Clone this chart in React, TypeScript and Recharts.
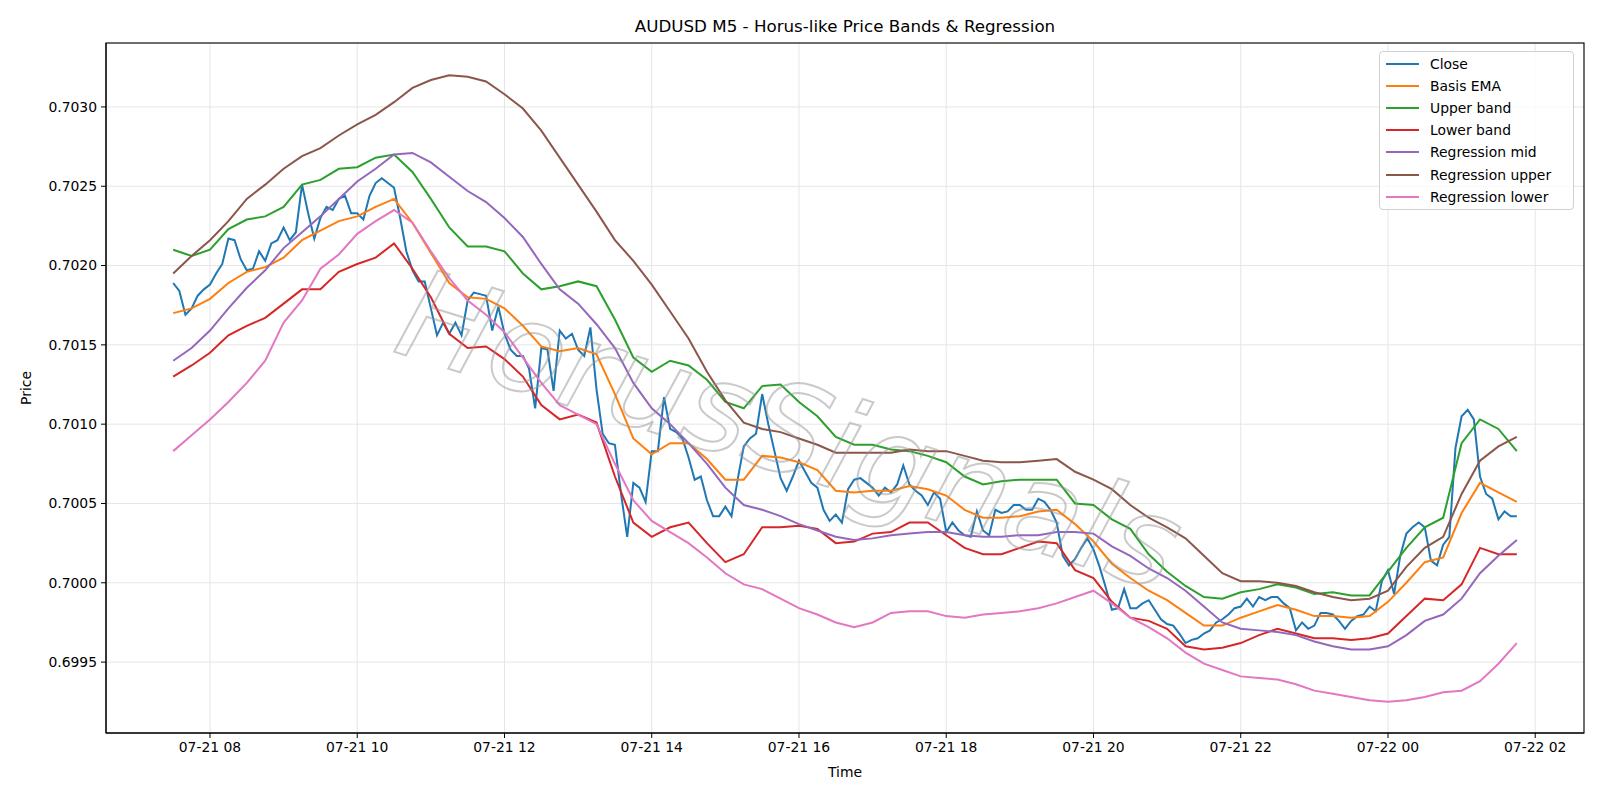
import React from "react";
import { LineChart, Line, XAxis, YAxis, CartesianGrid, Legend } from "recharts";

// M5 bars from 07-21 07:30; index 0 = 07:30, one step = 5 minutes
const closePrices = [
  0.70189, 0.70184, 0.70169, 0.70173, 0.70181, 0.70185, 0.70188, 0.70195, 0.70201, 0.70217,
  0.70216, 0.70204, 0.70197, 0.70198, 0.70209, 0.70203, 0.70214, 0.70216, 0.70224, 0.70216,
  0.70221, 0.70251, 0.70233, 0.70217, 0.7023, 0.70237, 0.70235, 0.70242, 0.70244, 0.70233,
  0.70233, 0.70229, 0.70244, 0.70252, 0.70255, 0.70252, 0.70249, 0.7023, 0.70209, 0.70197,
  0.7019, 0.7019, 0.70173, 0.70156, 0.70164, 0.70157, 0.70164, 0.70156, 0.70178, 0.70183,
  0.70182, 0.70181, 0.70159, 0.70174, 0.70157, 0.70147, 0.70143, 0.70143, 0.70135, 0.7011,
  0.70148, 0.70147, 0.70121, 0.70159, 0.70154, 0.70157, 0.70147, 0.70143, 0.70161, 0.70122,
  0.70094, 0.70088, 0.70087, 0.70056, 0.70029, 0.70063, 0.7006, 0.70051, 0.70083, 0.70083,
  0.70117, 0.70097, 0.70095, 0.70091, 0.70079, 0.70065, 0.70067, 0.70052, 0.70042, 0.70042,
  0.70048, 0.70042, 0.70065, 0.70086, 0.70091, 0.70094, 0.70119, 0.701, 0.70083, 0.70066,
  0.70058, 0.70067, 0.70077, 0.7007, 0.70063, 0.7006, 0.70046, 0.70039, 0.70043, 0.70038,
  0.70059, 0.70065, 0.70066, 0.70063, 0.7006, 0.70055, 0.7006, 0.70057, 0.70062, 0.70074,
  0.70062, 0.70058, 0.70055, 0.70049, 0.70057, 0.70053, 0.70032, 0.70038, 0.70033, 0.7003,
  0.70029, 0.70045, 0.70033, 0.7003, 0.70046, 0.70044, 0.70045, 0.70049, 0.70049, 0.70046,
  0.70046, 0.70053, 0.70051, 0.70046, 0.70038, 0.70017, 0.70011, 0.70015, 0.70022, 0.70028,
  0.70021, 0.7001, 0.69997, 0.69983, 0.69984, 0.69996, 0.69984, 0.69984, 0.69987, 0.69989,
  0.69983, 0.69977, 0.69974, 0.69973, 0.69968, 0.69962, 0.69964, 0.69965, 0.69968, 0.6997,
  0.69975, 0.69977, 0.6998, 0.69984, 0.69985, 0.6999, 0.69985, 0.69991, 0.69989, 0.69991,
  0.69991, 0.69987, 0.69984, 0.6997, 0.69975, 0.69971, 0.69973, 0.69981, 0.69981, 0.6998,
  0.69976, 0.69971, 0.69976, 0.69979, 0.6998, 0.69985, 0.69982, 0.70001, 0.70008, 0.69993,
  0.70017, 0.70031, 0.70035, 0.70038, 0.70035, 0.70014, 0.70011, 0.70024, 0.70029, 0.70085,
  0.70105, 0.70109, 0.70103, 0.70067, 0.70056, 0.70053, 0.7004, 0.70045, 0.70042, 0.70042,
];

// the smoother series, read every third bar (15 minutes)
const basisEma = [
  0.7017, 0.70173, 0.70179, 0.70189, 0.70196, 0.70199, 0.70205, 0.70216, 0.70222, 0.70228, 0.70231,
  0.70237, 0.70242, 0.70227, 0.70208, 0.70189, 0.7018, 0.70179, 0.70173, 0.70162, 0.70149, 0.70146, 0.70148, 0.70144,
  0.70119, 0.70091, 0.70081, 0.70088, 0.70088, 0.70078, 0.70065, 0.70065, 0.7008, 0.70079, 0.70076, 0.70071, 0.70058, 0.70057,
  0.70058, 0.70058, 0.70061, 0.70059, 0.70055, 0.70046, 0.70041, 0.70041, 0.70042, 0.70045, 0.70046, 0.70037, 0.70026, 0.70012,
  0.70003, 0.69995, 0.69989, 0.69981, 0.69973, 0.69973, 0.69978, 0.69982, 0.69986, 0.69983, 0.69979, 0.69979, 0.69978,
  0.69979, 0.69988, 0.7, 0.70013, 0.70016, 0.70044, 0.70063, 0.70057, 0.70051,
];
const upperBand = [
  0.7021, 0.70206, 0.7021, 0.70223, 0.70229, 0.70231, 0.70237, 0.70251, 0.70254, 0.70261, 0.70262,
  0.70268, 0.7027, 0.70259, 0.70242, 0.70224, 0.70212, 0.70212, 0.70209, 0.70195, 0.70185, 0.70187, 0.7019, 0.70187,
  0.70166, 0.70142, 0.70133, 0.7014, 0.70137, 0.70128, 0.70114, 0.7011, 0.70124, 0.70125, 0.70114, 0.70105, 0.70092, 0.70087,
  0.70087, 0.70084, 0.70083, 0.7008, 0.70076, 0.70067, 0.70062, 0.70064, 0.70065, 0.70065, 0.70065, 0.7005, 0.70049, 0.7004,
  0.70034, 0.70018, 0.70007, 0.69998, 0.69991, 0.6999, 0.69994, 0.69996, 0.69999, 0.69997, 0.69993, 0.69994, 0.69992,
  0.69992, 0.70007, 0.70022, 0.70035, 0.70041, 0.70088, 0.70103, 0.70097, 0.70083,
];
const lowerBand = [
  0.7013, 0.70137, 0.70145, 0.70156, 0.70162, 0.70167, 0.70176, 0.70185, 0.70185, 0.70196, 0.70201,
  0.70205, 0.70214, 0.70198, 0.7018, 0.70157, 0.70148, 0.70149, 0.70141, 0.7013, 0.70112, 0.70103, 0.70106, 0.70101,
  0.70067, 0.70038, 0.70029, 0.70035, 0.70038, 0.70025, 0.70013, 0.70018, 0.70035, 0.70035, 0.70036, 0.70034, 0.70025, 0.70026,
  0.70031, 0.70032, 0.70038, 0.70038, 0.7003, 0.70022, 0.70018, 0.70018, 0.70022, 0.70026, 0.70025, 0.70008, 0.70003, 0.69988,
  0.69978, 0.69976, 0.69971, 0.6996, 0.69958, 0.69959, 0.69962, 0.69967, 0.69971, 0.69968, 0.69965, 0.69965, 0.69964,
  0.69965, 0.69968, 0.69979, 0.6999, 0.69989, 0.69999, 0.70022, 0.70018, 0.70018,
];
const regressionMid = [
  0.7014, 0.70148, 0.70159, 0.70173, 0.70186, 0.70197, 0.70211, 0.70221, 0.70231, 0.70242, 0.70253,
  0.70261, 0.7027, 0.70271, 0.70265, 0.70256, 0.70247, 0.7024, 0.7023, 0.70218, 0.70201, 0.70185, 0.70176, 0.70163,
  0.70148, 0.70126, 0.7011, 0.701, 0.70088, 0.70075, 0.7006, 0.70049, 0.70046, 0.70042, 0.70037, 0.70033, 0.70029, 0.70027,
  0.70028, 0.7003, 0.70031, 0.70032, 0.70032, 0.7003, 0.70029, 0.70029, 0.7003, 0.7003, 0.70032, 0.70032, 0.70031, 0.70023,
  0.70017, 0.70009, 0.70003, 0.69995, 0.69985, 0.69975, 0.69971, 0.6997, 0.69969, 0.69967, 0.69963, 0.6996, 0.69958,
  0.69958, 0.6996, 0.69967, 0.69976, 0.6998, 0.6999, 0.70006, 0.70017, 0.70027,
];
const regressionUpper = [
  0.70195, 0.70206, 0.70216, 0.70228, 0.70242, 0.70251, 0.70261, 0.70269, 0.70274, 0.70282, 0.70289,
  0.70295, 0.70303, 0.70312, 0.70317, 0.7032, 0.70319, 0.70316, 0.70308, 0.70299, 0.70285, 0.70268, 0.70251, 0.70234,
  0.70216, 0.70203, 0.70188, 0.70171, 0.70154, 0.70133, 0.70115, 0.70101, 0.70097, 0.70095, 0.70091, 0.70087, 0.70082, 0.70082,
  0.70082, 0.70082, 0.70084, 0.70083, 0.70083, 0.7008, 0.70077, 0.70076, 0.70076, 0.70077, 0.70078, 0.7007, 0.70065, 0.70059,
  0.70049, 0.70041, 0.70035, 0.70028, 0.70017, 0.70006, 0.70001, 0.70001, 0.7, 0.69998, 0.69994, 0.69991, 0.69989,
  0.6999, 0.69995, 0.7001, 0.70022, 0.70029, 0.70056, 0.70077, 0.70086, 0.70092,
];
const regressionLower = [
  0.70083, 0.70093, 0.70103, 0.70114, 0.70126, 0.7014, 0.70164, 0.70178, 0.70198, 0.70207, 0.7022,
  0.70228, 0.70235, 0.70227, 0.70209, 0.70192, 0.70178, 0.70169, 0.70158, 0.70142, 0.70126, 0.70112, 0.70106, 0.701,
  0.70075, 0.70052, 0.70039, 0.70032, 0.70025, 0.70016, 0.70006, 0.69999, 0.69996, 0.6999, 0.69984, 0.6998, 0.69975, 0.69972,
  0.69975, 0.69981, 0.69982, 0.69982, 0.69979, 0.69978, 0.6998, 0.69981, 0.69982, 0.69984, 0.69987, 0.69991, 0.69995, 0.69987,
  0.69978, 0.69972, 0.69965, 0.69956, 0.69949, 0.69945, 0.69941, 0.6994, 0.69939, 0.69936, 0.69932, 0.6993, 0.69928,
  0.69926, 0.69925, 0.69926, 0.69928, 0.69931, 0.69932, 0.69938, 0.69949, 0.69962,
];

const tickBars = [6, 30, 54, 78, 102, 126, 150, 174, 198, 222];
const tickLabels = [
  "07-21 08", "07-21 10", "07-21 12", "07-21 14", "07-21 16",
  "07-21 18", "07-21 20", "07-21 22", "07-22 00", "07-22 02",
];
const priceTicks = [0.6995, 0.7, 0.7005, 0.701, 0.7015, 0.702, 0.7025, 0.703];

const series = [
  { key: "close", name: "Close", color: "#1f77b4" },
  { key: "basis", name: "Basis EMA", color: "#ff7f0e" },
  { key: "upper", name: "Upper band", color: "#2ca02c" },
  { key: "lower", name: "Lower band", color: "#d62728" },
  { key: "regMid", name: "Regression mid", color: "#9467bd" },
  { key: "regUp", name: "Regression upper", color: "#8c564b" },
  { key: "regLow", name: "Regression lower", color: "#e377c2" },
];

const every3 = (arr: number[], i: number) => (i % 3 === 0 ? arr[i / 3] : null);

const rows = closePrices.map((c, i) => ({
  i,
  close: c,
  basis: every3(basisEma, i),
  upper: every3(upperBand, i),
  lower: every3(lowerBand, i),
  regMid: every3(regressionMid, i),
  regUp: every3(regressionUpper, i),
  regLow: every3(regressionLower, i),
}));

const FONT = "'DejaVu Sans', sans-serif";
const xDomain = [-10.95, 229.95];
const yDomain = [0.699053, 0.703403];

// plot box, in page pixels
const PLOT = { left: 106, top: 43, right: 1584, bottom: 733 };

function LegendBox() {
  return (
    <div
      style={{
        position: "absolute",
        left: 1379,
        top: 51,
        width: 193,
        height: 157,
        border: "1px solid #d0d0d0",
        borderRadius: 4,
        background: "rgba(255,255,255,0.8)",
        fontFamily: FONT,
        fontSize: 13.9,
        color: "#000",
      }}
    >
      {series.map((s, k) => (
        <div
          key={s.key}
          style={{ position: "absolute", left: 0, top: 12 + k * 22.1 - 9, height: 18, width: 190 }}
        >
          <div
            style={{
              position: "absolute",
              left: 6,
              top: 8,
              width: 33,
              height: 2,
              background: s.color,
            }}
          />
          <div style={{ position: "absolute", left: 50, top: 0, lineHeight: "18px", whiteSpace: "nowrap" }}>
            {s.name}
          </div>
        </div>
      ))}
    </div>
  );
}

export default function App() {
  return (
    <div style={{ position: "absolute", left: 0, top: 0, width: 1600, height: 800, background: "#fff" }}>
      <LineChart
        width={1600}
        height={800}
        data={rows}
        margin={{ top: PLOT.top, right: 1600 - PLOT.right, bottom: 0, left: 0 }}
      >
        <CartesianGrid stroke="#e6e6e6" strokeWidth={1} />
        <XAxis
          dataKey="i"
          type="number"
          domain={xDomain}
          ticks={tickBars}
          allowDataOverflow
          tickFormatter={(v: number) => tickLabels[tickBars.indexOf(v)]}
          height={800 - PLOT.bottom}
          tickSize={5}
          tickMargin={4}
          stroke="#000"
          tick={{ fill: "#000", fontSize: 13.9, fontFamily: FONT }}
        />
        <YAxis
          type="number"
          domain={yDomain}
          ticks={priceTicks}
          allowDataOverflow
          width={PLOT.left}
          tickSize={5}
          tickMargin={4}
          stroke="#000"
          tickFormatter={(v: number) => v.toFixed(4)}
          tick={{ fill: "#000", fontSize: 13.9, fontFamily: FONT }}
        />
        {series.map((s) => (
          <Line
            key={s.key}
            dataKey={s.key}
            name={s.name}
            type="linear"
            stroke={s.color}
            strokeWidth={2}
            dot={false}
            activeDot={false}
            connectNulls
            isAnimationActive={false}
          />
        ))}
        <Legend content={() => null} />
      </LineChart>
      <svg
        width={1600}
        height={800}
        style={{ position: "absolute", left: 0, top: 0, pointerEvents: "none" }}
      >
        <text
          x={790}
          y={430}
          textAnchor="middle"
          dominantBaseline="central"
          fontFamily={FONT}
          fontSize={124}
          fontStyle="italic"
          fill="none"
          stroke="rgba(150,150,150,0.5)"
          strokeWidth={2}
          transform="rotate(17.3 790 430)"
        >
          HorusSignals
        </text>
        <rect
          x={PLOT.left}
          y={PLOT.top}
          width={PLOT.right - PLOT.left}
          height={PLOT.bottom - PLOT.top}
          fill="none"
          stroke="#000"
          strokeWidth={1.1}
        />
        <text
          x={(PLOT.left + PLOT.right) / 2}
          y={26}
          textAnchor="middle"
          dominantBaseline="central"
          fontFamily={FONT}
          fontSize={16.7}
          fill="#000"
        >
          AUDUSD M5 - Horus-like Price Bands &amp; Regression
        </text>
        <text
          x={(PLOT.left + PLOT.right) / 2}
          y={772}
          textAnchor="middle"
          dominantBaseline="central"
          fontFamily={FONT}
          fontSize={13.9}
          fill="#000"
        >
          Time
        </text>
        <text
          x={26}
          y={388}
          textAnchor="middle"
          dominantBaseline="central"
          fontFamily={FONT}
          fontSize={13.9}
          fill="#000"
          transform="rotate(-90 26 388)"
        >
          Price
        </text>
      </svg>
      <LegendBox />
    </div>
  );
}
